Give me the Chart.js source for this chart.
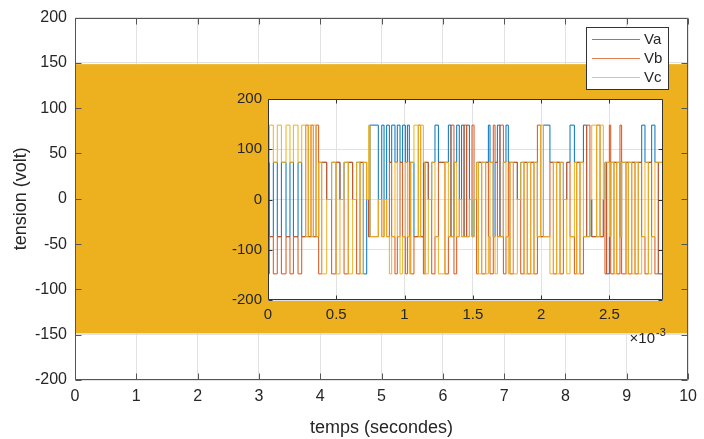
<!DOCTYPE html>
<html>
<head>
<meta charset="utf-8">
<script src="https://cdn.jsdelivr.net/npm/chart.js@4.4.1/dist/chart.umd.min.js"></script>
<style>
  body { margin: 0; background: #fff; }
  #wrap { position: relative; width: 704px; height: 439px; }
  #main { position: absolute; left: 0; top: 0; }
  #zoom { position: absolute; left: 220px; top: 84px; }
</style>
</head>
<body>
<div id="wrap">
  <canvas id="main" width="704" height="439"></canvas>
  <canvas id="zoom" width="450" height="270"></canvas>
</div>
<script>
// phase names and matlab default line colours
const seriesNames = ['Va', 'Vb', 'Vc'];
const seriesColors = ['#0072BD', '#D95319', '#EDB120'];

// full run 0..10 s : the switching is so dense that Vc fills its envelope
const envTime = [0, 10];
const envMax = [148, 148];
const envMin = [-148, -148];

// first 2.9 ms, switching instants (ms) and phase voltages after each instant
const tMs = [
  0, 0.010, 0.039, 0.068, 0.098, 0.132, 0.161, 0.186, 0.220, 0.247,
  0.276, 0.295, 0.315, 0.332, 0.352, 0.371, 0.393, 0.430, 0.466, 0.498,
  0.527, 0.557, 0.588, 0.620, 0.649, 0.674, 0.698, 0.723, 0.737, 0.747,
  0.808, 0.833, 0.850, 0.869, 0.889, 0.906, 0.930, 0.947, 0.967, 0.986,
  1.006, 1.021, 1.035, 1.045, 1.069, 1.101, 1.118, 1.138, 1.150, 1.174,
  1.199, 1.223, 1.248, 1.296, 1.321, 1.340, 1.362, 1.382, 1.401, 1.418,
  1.436, 1.455, 1.475, 1.494, 1.509, 1.528, 1.541, 1.565, 1.594, 1.614,
  1.626, 1.650, 1.663, 1.680, 1.699, 1.724, 1.743, 1.760, 1.772, 1.797,
  1.826, 1.851, 1.875, 1.899, 1.924, 1.948, 1.973, 1.997, 2.017, 2.065,
  2.090, 2.114, 2.139, 2.163, 2.188, 2.212, 2.244, 2.261, 2.285, 2.310,
  2.334, 2.358, 2.371, 2.407, 2.432, 2.456, 2.468, 2.480, 2.500, 2.510,
  2.534, 2.554, 2.578, 2.590, 2.622, 2.639, 2.664, 2.688, 2.712, 2.737,
  2.761, 2.786, 2.810, 2.834, 2.859, 2.871, 2.893
];
const va = [
  -74, 74, -74, 74, -74, 74, -74, 74, -74, 74,
  -74, -74, -74, -74, -74, -74, 74, 74, 0, 74,
  74, 0, 74, 74, 0, 74, 74, -148, 0, -74,
  148, 0, 148, 0, 148, 74, 148, 74, 148, 74,
  148, 74, 148, 74, 74, -74, -74, -74, 74, 74,
  0, 74, 148, 74, 74, 148, -74, 74, 148, 0,
  148, -74, 148, 0, -74, 0, 74, 74, 74, 74,
  148, 74, -74, 74, 148, -74, 74, 148, 74, 74,
  74, 0, 74, 74, 74, 74, 74, -74, -74, 148,
  74, 74, 74, 74, 0, 74, 148, 74, 74, 74,
  148, -74, 0, -74, -74, -74, 0, 74, -148, -74,
  74, 74, 74, -74, 74, 74, 74, 74, 74, 74,
  148, 74, 74, 148, 74, -148, -148
];
const vb = [
  -74, -148, -74, -148, -74, -148, -74, -148, -74, -148,
  -74, 148, -74, 148, -74, 148, -148, 74, 0, -148,
  74, 0, -148, 74, 0, -148, 74, 74, 0, -74,
  -74, 0, -74, 0, -74, 74, -74, -148, -74, 74,
  -74, -148, -74, 74, -148, -74, 148, -74, -148, 74,
  0, -148, -74, 74, -148, -74, 148, -148, -74, 0,
  -74, 148, -74, 0, 148, 0, -148, 74, -148, 74,
  -74, -148, 148, 74, -74, 148, -148, -74, 74, -148,
  74, 0, -148, 74, -148, 74, -148, 148, -74, -74,
  74, -148, 74, -148, 0, 74, -74, -148, 74, -148,
  -74, 148, 0, -74, 148, -74, 0, -148, 74, 148,
  -148, 74, -148, 148, -148, 74, -148, 74, -148, 74,
  -74, -148, 74, -74, -148, 74, 74
];
const vc = [
  148, 74, 148, 74, 148, 74, 148, 74, 148, 74,
  148, -74, 148, -74, 148, -74, 74, -148, 0, 74,
  -148, 0, 74, -148, 0, 74, -148, 74, 0, 148,
  -74, 0, -74, 0, -74, -148, -74, 74, -74, -148,
  -74, 74, -74, -148, 74, 148, -74, 148, 74, -148,
  0, 74, -74, -148, 74, -74, -74, 74, -74, 0,
  -74, -74, -74, 0, -74, 0, 74, -148, 74, -148,
  -74, 74, -74, -148, -74, -74, 74, -74, -148, 74,
  -148, 0, 74, -148, 74, -148, 74, -74, 148, -74,
  -148, 74, -148, 74, 0, -148, -74, 74, -148, 74,
  -74, -74, 0, 148, -74, 148, 0, 74, 74, -74,
  74, -148, 74, -74, 74, -148, 74, -148, 74, -148,
  -74, 74, -148, -74, 74, 74, 74
];

// tick labels
const mainTicksX = [0, 1, 2, 3, 4, 5, 6, 7, 8, 9, 10];
const mainTicksY = [-200, -150, -100, -50, 0, 50, 100, 150, 200];
const zoomTicksX = [0, 0.5, 1, 1.5, 2, 2.5]; // ms
const zoomTicksY = [-200, -100, 0, 100, 200];

Chart.defaults.font.family = "'Liberation Sans', Arial, sans-serif";
Chart.defaults.color = '#262626';

const ink = '#262626';
const gridColor = '#e2e2e2';

// box round the plot area with inward tick marks, matlab style
const boxTicks = {
  id: 'boxTicks',
  afterDatasetsDraw(chart, args, opts) {
    const {ctx, chartArea: a, scales: {x, y}} = chart;
    const len = opts.length;
    const L = Math.round(a.left) + 0.5, R = Math.round(a.right) - 0.5;
    const T = Math.round(a.top) + 0.5, B = Math.round(a.bottom) - 0.5;
    ctx.save();
    ctx.strokeStyle = opts.color;
    ctx.lineWidth = 1;
    ctx.beginPath();
    x.ticks.forEach(t => {
      const px = Math.round(x.getPixelForValue(t.value)) + 0.5;
      ctx.moveTo(px, B); ctx.lineTo(px, B - len);
      ctx.moveTo(px, T); ctx.lineTo(px, T + len);
    });
    y.ticks.forEach(t => {
      const py = Math.round(y.getPixelForValue(t.value)) + 0.5;
      ctx.moveTo(L, py); ctx.lineTo(L + len, py);
      ctx.moveTo(R, py); ctx.lineTo(R - len, py);
    });
    ctx.rect(L, T, R - L, B - T);
    ctx.stroke();
    ctx.restore();
  }
};

// white axes background for the zoomed view
const plotBg = {
  id: 'plotBg',
  beforeDraw(chart) {
    const {ctx, chartArea: a} = chart;
    ctx.save();
    ctx.fillStyle = '#fff';
    ctx.fillRect(a.left, a.top, a.width, a.height);
    ctx.restore();
  }
};

// legend box in the upper right corner of the main axes
const cornerLegend = {
  id: 'cornerLegend',
  afterDraw(chart) {
    const ctx = chart.ctx;
    const x0 = 586, y0 = 27, w = 83, h = 63;
    ctx.save();
    ctx.fillStyle = '#fff';
    ctx.fillRect(x0, y0, w, h);
    ctx.strokeStyle = '#333';
    ctx.lineWidth = 1;
    ctx.strokeRect(x0 + 0.5, y0 + 0.5, w - 1, h - 1);
    ctx.font = "15px 'Liberation Sans', Arial, sans-serif";
    ctx.textBaseline = 'middle';
    ctx.textAlign = 'left';
    seriesNames.forEach((name, i) => {
      const ly = y0 + 12 + i * 19;
      ctx.strokeStyle = seriesColors[i];
      ctx.globalAlpha = 0.75;
      ctx.beginPath();
      ctx.moveTo(x0 + 6, ly + 0.5);
      ctx.lineTo(x0 + 54, ly + 0.5);
      ctx.stroke();
      ctx.globalAlpha = 1;
      ctx.fillStyle = ink;
      ctx.fillText(name, x0 + 58, ly + 1);
    });
    ctx.restore();
  }
};

// x10^-3 multiplier under the zoomed time axis
const expLabel = {
  id: 'expLabel',
  afterDraw(chart) {
    const {ctx, chartArea: a} = chart;
    ctx.save();
    ctx.fillStyle = ink;
    ctx.textAlign = 'right';
    ctx.textBaseline = 'alphabetic';
    ctx.font = "15px 'Liberation Sans', Arial, sans-serif";
    ctx.fillText('\u00d710', a.right - 8, a.bottom + 43);
    ctx.textAlign = 'left';
    ctx.font = "11px 'Liberation Sans', Arial, sans-serif";
    ctx.fillText('-3', a.right - 7, a.bottom + 36);
    ctx.restore();
  }
};

const pts = (xs, ys) => xs.map((x, i) => ({x, y: ys[i]}));

new Chart(document.getElementById('main'), {
  type: 'line',
  data: {
    datasets: [
      {
        label: 'Vc',
        data: pts(envTime, envMax),
        borderColor: seriesColors[2],
        backgroundColor: seriesColors[2],
        borderWidth: 1,
        pointRadius: 0,
        fill: '+1'
      },
      {
        label: 'Vc min',
        data: pts(envTime, envMin),
        borderColor: seriesColors[2],
        borderWidth: 1,
        pointRadius: 0,
        fill: false
      }
    ]
  },
  options: {
    responsive: false,
    animation: false,
    layout: {padding: {top: 14, right: 12, left: 0, bottom: 0}},
    plugins: {
      legend: {display: false},
      tooltip: {enabled: false},
      boxTicks: {length: 6, color: '#555'}
    },
    scales: {
      x: {
        type: 'linear',
        min: 0,
        max: 10,
        afterBuildTicks: s => { s.ticks = mainTicksX.map(v => ({value: v})); },
        afterFit: s => { s.height = 59; },
        ticks: {font: {size: 16}, color: ink, padding: 7, maxRotation: 0},
        grid: {color: gridColor, drawTicks: false},
        border: {display: false},
        title: {display: true, text: 'temps (secondes)', font: {size: 18}, color: ink, padding: {top: 0, bottom: 0}}
      },
      y: {
        type: 'linear',
        min: -200,
        max: 200,
        afterBuildTicks: s => { s.ticks = mainTicksY.map(v => ({value: v})); },
        afterFit: s => { s.width = 75; },
        ticks: {font: {size: 16}, color: ink, padding: 8},
        grid: {color: gridColor, drawTicks: false},
        border: {display: false},
        title: {display: true, text: 'tension (volt)', font: {size: 18}, color: ink, padding: {top: 10, bottom: 0}}
      }
    }
  },
  plugins: [boxTicks, cornerLegend]
});

const phases = [va, vb, vc];
new Chart(document.getElementById('zoom'), {
  type: 'line',
  data: {
    datasets: phases.map((v, i) => ({
      label: seriesNames[i],
      data: pts(tMs.map(t => t / 1000), v),
      borderColor: seriesColors[i],
      borderWidth: 1,
      pointRadius: 0,
      stepped: 'after',
      fill: false,
      order: 3 - i
    }))
  },
  options: {
    responsive: false,
    animation: false,
    layout: {padding: {top: 10, right: 7, left: 0, bottom: 0}},
    plugins: {
      legend: {display: false},
      tooltip: {enabled: false},
      boxTicks: {length: 4, color: '#333'}
    },
    scales: {
      x: {
        type: 'linear',
        min: 0,
        max: tMs[tMs.length - 1] / 1000,
        afterBuildTicks: s => { s.ticks = zoomTicksX.map(v => ({value: v / 1000})); },
        afterFit: s => { s.height = 54; },
        ticks: {
          font: {size: 15}, color: ink, padding: 6, maxRotation: 0,
          callback: v => String(Math.round(v * 10000) / 10)
        },
        grid: {color: gridColor, drawTicks: false},
        border: {display: false}
      },
      y: {
        type: 'linear',
        min: -200,
        max: 200,
        afterBuildTicks: s => { s.ticks = zoomTicksY.map(v => ({value: v})); },
        afterFit: s => { s.width = 48; },
        ticks: {font: {size: 15}, color: ink, padding: 6},
        grid: {color: gridColor, drawTicks: false},
        border: {display: false}
      }
    }
  },
  plugins: [plotBg, boxTicks, expLabel]
});
</script>
</body>
</html>
